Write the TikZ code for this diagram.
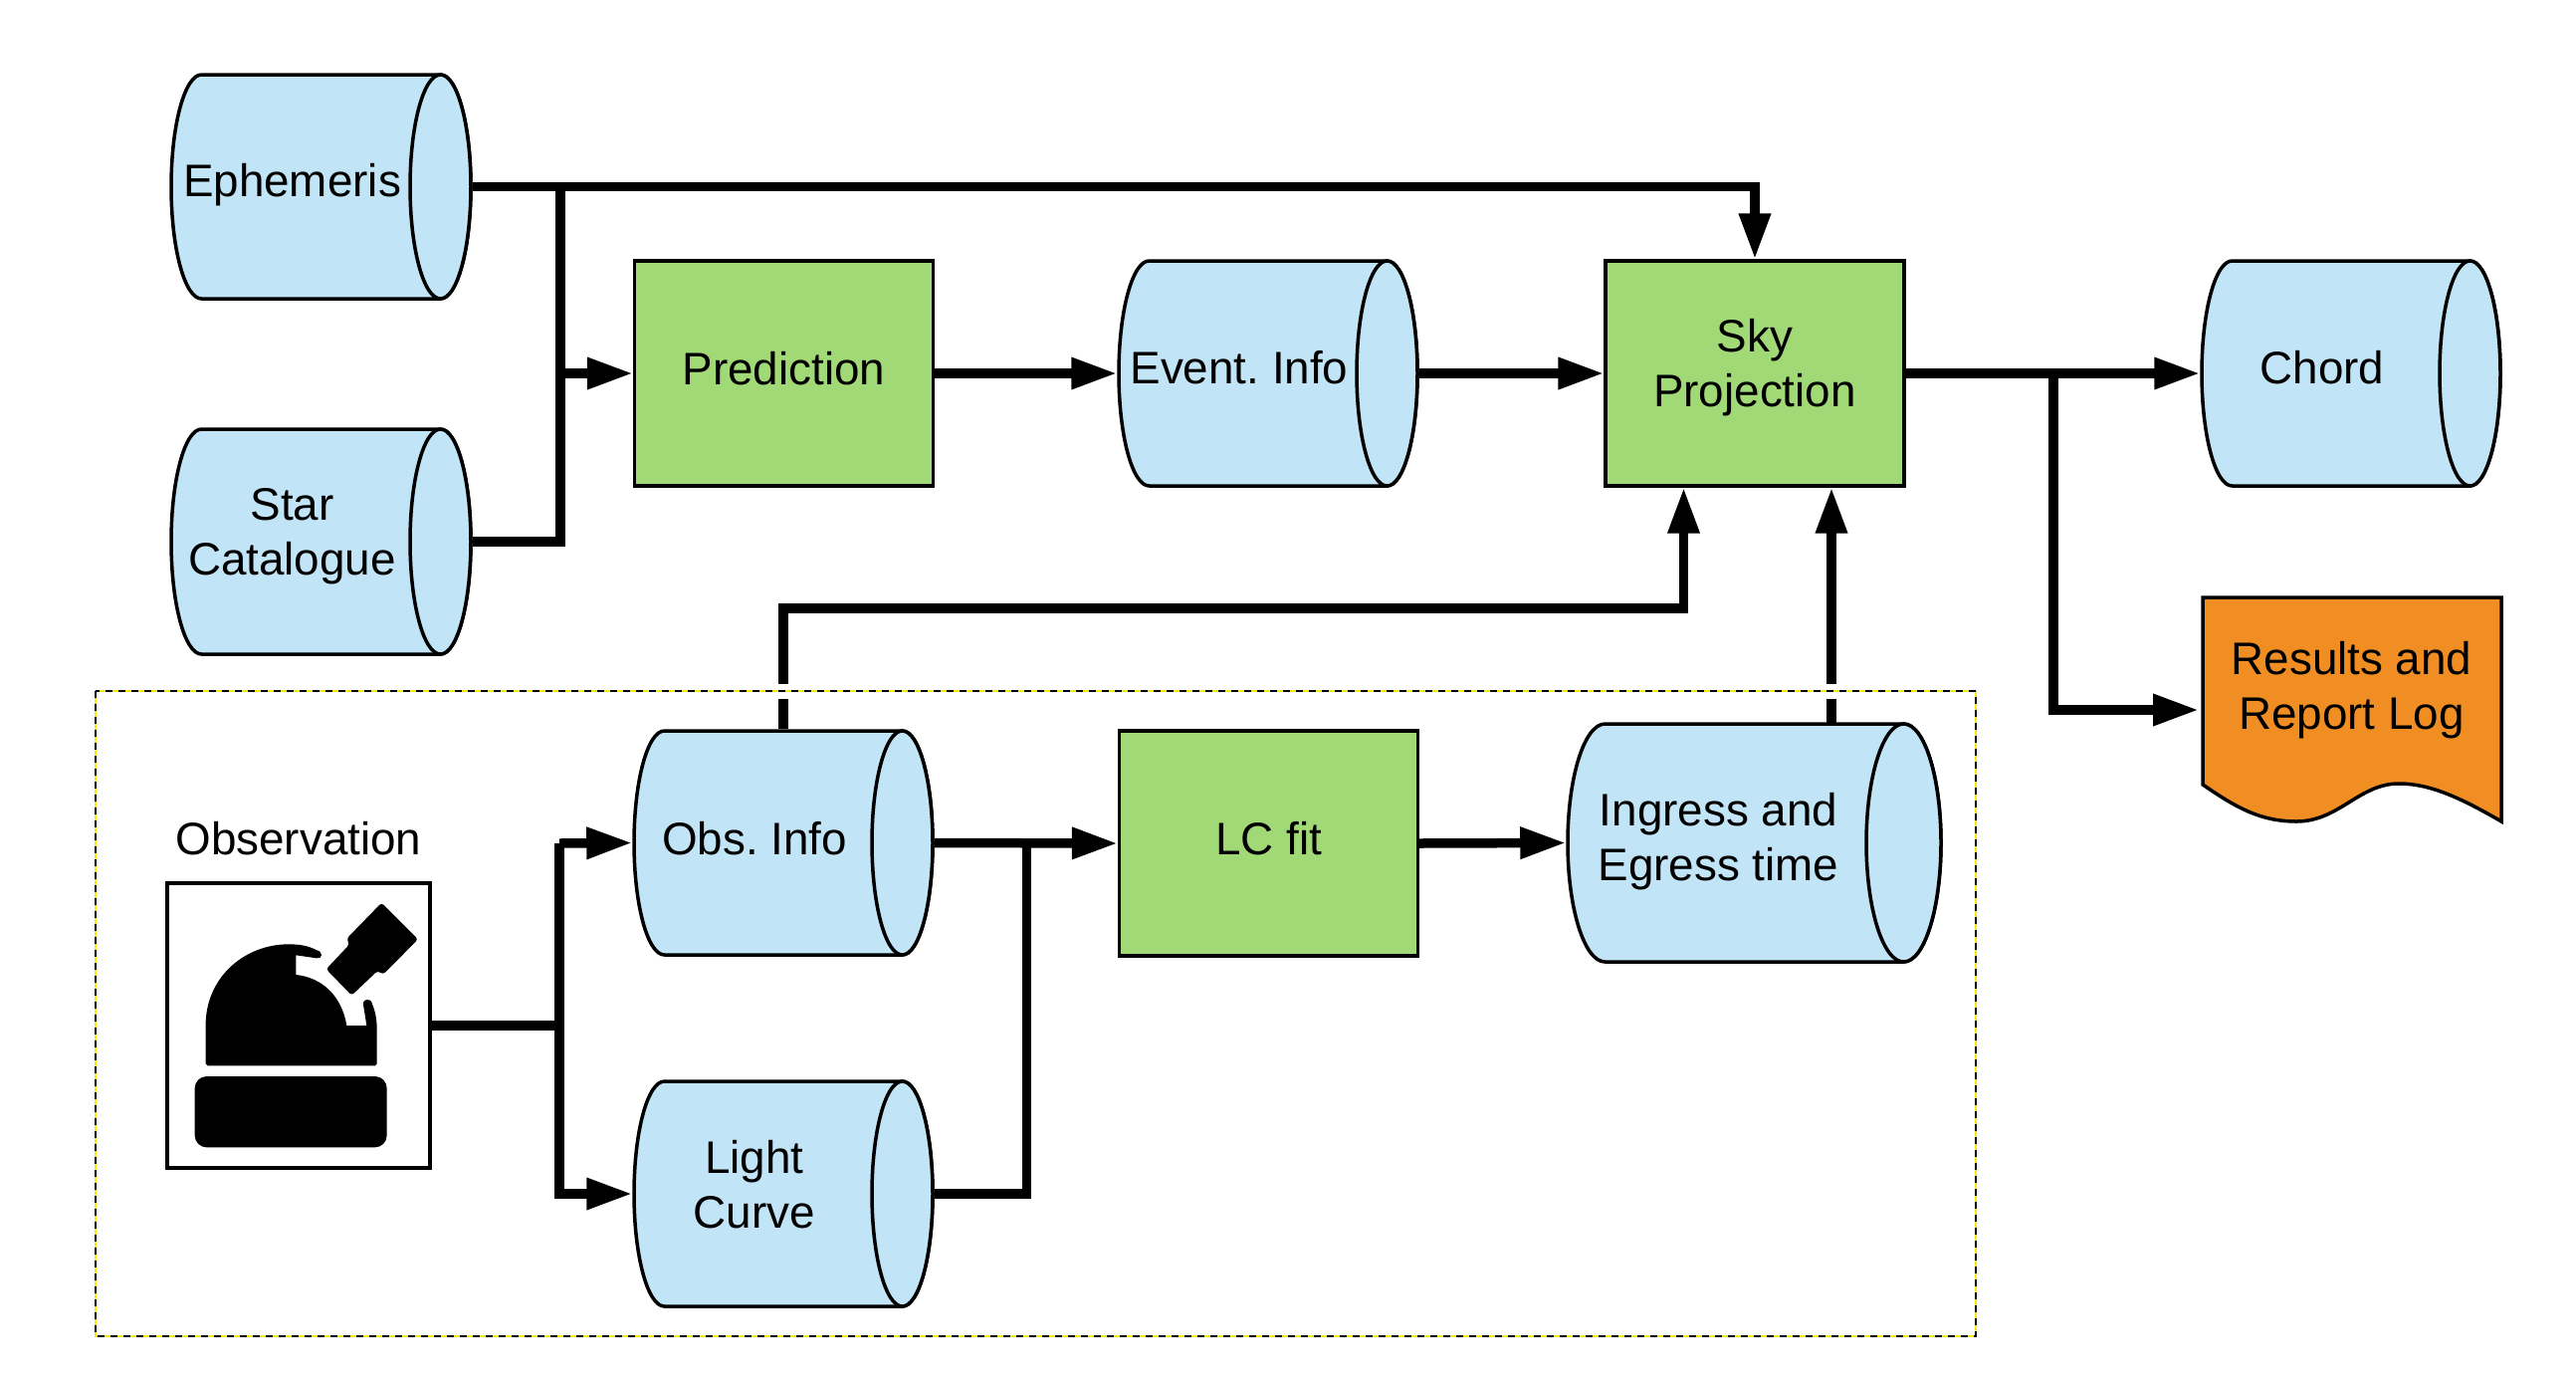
\documentclass[tikz,border=0pt]{standalone}
\usepackage{fontspec}
\setmainfont{Liberation Sans}
\usetikzlibrary{arrows.meta}
\definecolor{cylblue}{HTML}{C1E4F7}
\definecolor{procgreen}{HTML}{A2D977}
\definecolor{docorange}{HTML}{F08E23}
\tikzset{
  x=.5pt,y=-.5pt,
  txt/.style={font=\fontsize{22.9pt}{27.5pt}\selectfont\frenchspacing,align=center,inner sep=0pt},
  cylline/.style={draw=black,line width=1.75pt,fill=cylblue},
  cylbox/.style={rectangle,inner sep=0pt,outer sep=.875pt},
  proc/.style={txt,rectangle,draw=black,line width=1.6pt,fill=procgreen,minimum width=150pt,minimum height=113pt},
  conn/.style={line width=4.75pt,black},
  arr/.style={conn,-{Triangle[length=23pt,width=15pt]}},
}
% name, left, right, top, bottom, end radius, text, text offset
\newcommand\cylnode[8]{%
  \pgfmathsetmacro\cxa{#2+#6}\pgfmathsetmacro\cxb{#3-#6}%
  \pgfmathsetmacro\cym{(#4+#5)/2}\pgfmathsetmacro\crx{#6/2}\pgfmathsetmacro\cry{(#5-#4)/4}%
  \pgfmathsetmacro\cw{(#3-#2)/2}\pgfmathsetmacro\ch{(#5-#4)/2}%
  \pgfmathsetmacro\cxm{(#2+#3)/2}\pgfmathsetmacro\cxt{(#2+#3)/2-#6+1.5}\pgfmathsetmacro\cyt{\cym+#8}%
  \draw[cylline] (\cxb,#4) arc[start angle=90,end angle=-90,x radius=\crx pt,y radius=\cry pt]
    -- (\cxa,#5) arc[start angle=270,end angle=90,x radius=\crx pt,y radius=\cry pt] -- cycle;
  \draw[cylline] (\cxb,\cym) ellipse[x radius=\crx pt,y radius=\cry pt];
  \node[cylbox,minimum width=\cw pt,minimum height=\ch pt] (#1) at (\cxm,\cym) {};
  \node[txt] (#1text) at (\cxt,\cyt) {#7};
}
\begin{document}
\begin{tikzpicture}
\useasboundingbox[fill=white] (0,0) rectangle (2588,1388);
% nodes
\cylnode{eph}{172}{473}{75}{300}{30.5}{\strut Ephemeris}{-1}
\cylnode{star}{172}{473}{431}{657}{30.5}{\strut Star\\\strut Catalogue}{-5.5}
\node[proc] (pred) at (787.5,375) {\strut Prediction};
\cylnode{event}{1124}{1424}{262}{488}{30.5}{\strut Event. Info}{-1}
\node[proc] (sky) at (1763,375) {\strut Sky\\\strut Projection\rule[-13.75pt]{0pt}{13.75pt}};
\cylnode{chord}{2212}{2512}{262}{488}{30.5}{\strut Chord}{-1}
\cylnode{obs}{637}{937}{734}{959}{30.5}{\strut Obs. Info}{.5}
\cylnode{light}{637}{937}{1086}{1312}{30.5}{\strut Light\\\strut Curve}{-4}
\node[proc] (lc) at (1274.5,847) {\strut LC fit};
\cylnode{ing}{1575}{1950}{727}{966}{37.5}{\strut Ingress and\\\strut Egress time}{-1}
\node[rectangle,draw=black,line width=1.75pt,fill=white,minimum width=132pt,minimum height=143pt,inner sep=0pt] (obsbox) at (300,1030) {};
\node[txt] (obslabel) at (300,847.5) {\strut Observation};
% document
\draw[line width=1.75pt,fill=docorange,line join=miter]
  (2213,600) -- (2513,600) -- (2513,825)
  .. controls (2470,800) and (2440,787) .. (2410,787)
  .. controls (2370,787) and (2350,825) .. (2307,825)
  .. controls (2270,825) and (2245,810) .. (2213,788) -- cycle;
\node[txt] (log) at (2362.5,693.5) {\strut Results and\\\strut Report Log};
\coordinate (logw) at (2209,713);
% icon
\begin{scope}[shift={(150,860)},x=.16667pt,y=-.16667pt]
\fill[black,rounded corners=6pt] (137,663) rectangle (716,877);
\fill[black] (170,625) -- (170,500) .. controls (175,360) and (290,265) .. (420,265)
  .. controls (455,265) and (480,270) .. (505,283)
  .. controls (525,288) and (522,310) .. (505,307)
  -- (442,298) -- (442,357) .. controls (520,365) and (580,420) .. (595,510)
  -- (655,510) -- (645,447) .. controls (643,428) and (668,425) .. (672,445)
  .. controls (682,470) and (686,495) .. (686,520) -- (686,625) -- (680,631) -- (176,631) -- cycle;
\fill[black,rounded corners=1.5pt] (700,140) -- (810,250) -- (705,356) -- (688,345)
  -- (610,419) -- (533,340) -- (603,266) -- (595,248) -- cycle;
\end{scope}
% junctions
\coordinate (ja) at (563,375);
\coordinate (jb) at (562,847);
\coordinate (jc) at (1031.5,847);
\coordinate (jd) at (2063,375);
\coordinate (ce) at (1691.5,611);
\coordinate (cf) at (1840,727);
% connectors
\draw[arr] (eph.east) -| (sky.north);
\draw[conn] (star.east) -| (ja);
\draw[conn] (eph.east -| ja) -- (ja);
\draw[arr] (ja) -- (pred.west);
\draw[arr] (pred.east) -- (event.west);
\draw[arr] (event.east) -- (sky.west);
\draw[arr] (sky.east) -- (chord.west);
\draw[arr] (jd) |- (logw);
\draw[arr] (obs.north) |- (ce) -- (sky.south -| ce);
\draw[arr] (cf) -- (sky.south -| cf);
\draw[conn] (obsbox.east) -| (jb);
\draw[arr] (jb) -- (obs.west);
\draw[arr] (obsbox.east -| jb) |- (light.west);
\draw[arr] (obs.east) -- (lc.west);
\draw[conn] (light.east) -| (jc);
\draw[arr] (lc.east) -- (ing.west);
% gaps and frame
\coordinate (fa) at (96,694);
\coordinate (fb) at (1985,1342);
\draw[white,line width=7.5pt] (obs.north |- fa) ++(-8,0) -- ++(16,0);
\draw[white,line width=7.5pt] (cf |- fa) ++(-8,0) -- ++(16,0);
\draw[yellow!95!black,line width=.55pt] (fa) rectangle (fb);
\draw[black,line width=.55pt,dash pattern=on 3.5pt off 3pt] (fa) rectangle (fb);
\end{tikzpicture}
\end{document}
